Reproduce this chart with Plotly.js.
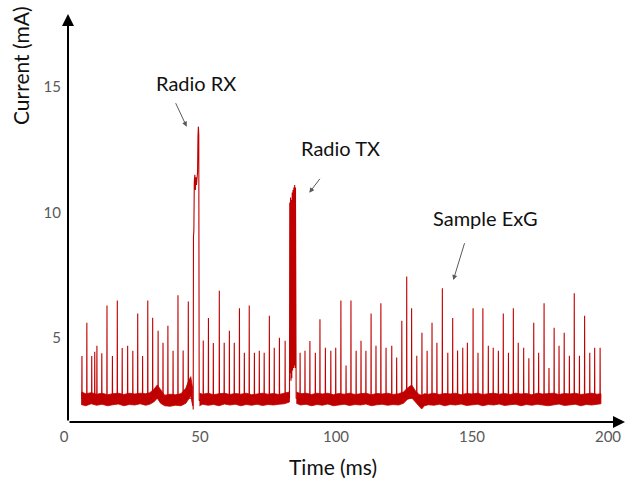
<!DOCTYPE html>
<html><head><meta charset="utf-8">
<script src="https://cdn.plot.ly/plotly-3.0.1.min.js"></script>
<style>html,body{margin:0;padding:0;background:#fff}#chart{width:626px;height:479px}</style>
</head><body><div id="chart"></div>
<script>
// ---- data ----
const spikeTime = [6.6, 8.4, 10.2, 11.3, 12.1, 13.9, 15.8, 17.8, 19.6, 21.4, 23.4, 25.3, 27.1, 28.9, 30.8, 32.6, 34.6, 36.4, 38.2, 40.1, 41.9, 43.8, 45.7,
  51.2, 53.1, 54.9, 57.1, 58.9, 60.8, 62.6, 64.5, 66.3, 68.1, 70.0, 71.8, 73.6, 75.5, 77.3, 79.2, 81.3,
  86.8, 88.6, 90.4, 92.4, 94.1, 96.1, 98.1, 99.9, 101.8, 103.7, 105.5, 107.4, 109.2, 111.0, 112.9, 114.7, 116.5, 118.4, 120.5, 122.3,
  124.2, 126.0, 127.8, 129.7, 131.6, 133.5, 135.3, 137.1, 139.1, 141.1, 142.9, 144.7, 146.6, 148.3, 150.4, 152.2, 154.0, 156.0, 157.8, 159.7,
  161.5, 163.4, 165.2, 167.0, 169.0, 170.9, 172.7, 174.5, 176.5, 178.3, 180.2, 182.0, 183.9, 185.8, 187.6, 189.5, 191.4, 193.3, 195.1, 197.1];
const spikePeak = [4.28, 5.61, 4.28, 4.45, 4.69, 4.39, 6.29, 4.28, 6.49, 4.6, 4.69, 4.49, 5.98, 4.28, 6.49, 5.81, 5.29, 4.81, 5.49, 4.49, 6.7, 4.5, 6.45,
  4.9, 5.8, 4.8, 6.88, 4.81, 5.29, 4.81, 6.18, 4.41, 6.29, 4.41, 4.49, 4.41, 5.89, 4.61, 5.01, 4.89,
  4.41, 4.49, 4.88, 4.41, 5.75, 4.61, 4.49, 4.61, 6.49, 3.9, 6.49, 4.49, 4.89, 4.49, 5.98, 4.69, 6.38, 4.61, 4.69, 4.22,
  5.69, 7.45, 6.18, 4.29, 5.21, 4.49, 5.61, 4.81, 6.98, 4.41, 5.8, 4.5, 4.61, 4.81, 6.18, 4.41, 6.18, 4.69, 4.61, 4.49,
  5.98, 4.41, 6.18, 4.81, 4.61, 4.19, 5.61, 4.41, 6.38, 3.8, 5.41, 4.69, 5.21, 4.29, 6.78, 4.29, 5.89, 4.41, 4.61, 4.61];
const baseline = 2.6;

const rxTime    = [47.4, 47.5, 47.6, 47.75, 47.9, 48.1, 48.3, 48.5, 48.7, 48.9, 49.1, 49.25, 49.4, 49.55, 49.7];
const rxCurrent = [2.6, 2.15, 9.0, 9.3, 11.2, 11.5, 10.9, 11.4, 11.1, 11.5, 11.6, 13.0, 13.42, 13.1, 2.5];

const txTime    = [82.9, 83.0, 83.15, 83.3, 83.45, 83.6, 83.75, 83.9, 84.05, 84.2, 84.35, 84.5, 84.65, 84.8, 84.95, 85.1, 85.25, 85.35];
const txCurrent = [2.6, 10.4, 3.6, 10.6, 3.3, 10.5, 3.4, 10.8, 3.7, 10.9, 3.8, 11.0, 3.9, 11.1, 3.8, 11.0, 3.9, 2.6];

// baseline noise band (upper / lower envelope); null separates segments
const bandTime = [6.3, 8, 10, 12, 14, 16, 18, 20, 22, 24, 26, 28, 30, 31.5, 33, 34.3, 35.5, 37, 39, 41, 43, 44.8, 45.8, 46.6, 47.3, null,
  49.8, 51, 53, 55, 57, 59, 61, 63, 65, 67, 69, 71, 73, 75, 77, 79, 81, 82.9, null,
  85.4, 87, 89, 91, 93, 95, 97, 99, 101, 103, 105, 107, 109, 111, 113, 115, 117, 119, 121, 123, 124.8, 126.2, 127.8, 129.2, 130.5, 131.5, 132.5, 134, 136, 138,
  140, 142, 144, 146, 148, 150, 152, 154, 156, 158, 160, 162, 164, 166, 168, 170, 172, 174, 176, 178, 180, 182, 184, 186, 188, 190, 192, 194, 196, 197.4];
const bandHigh = [2.85, 2.78, 2.82, 2.76, 2.8, 2.74, 2.78, 2.8, 2.75, 2.8, 2.77, 2.8, 2.78, 2.82, 2.95, 3.13, 2.95, 2.72, 2.76, 2.74, 2.78, 3.0, 3.3, 3.46, 3.0, null,
  2.8, 2.76, 2.8, 2.74, 2.78, 2.8, 2.75, 2.79, 2.76, 2.8, 2.74, 2.78, 2.8, 2.76, 2.79, 2.75, 2.8, 2.85, null,
  2.85, 2.78, 2.8, 2.75, 2.8, 2.77, 2.8, 2.74, 2.79, 2.76, 2.8, 2.75, 2.78, 2.8, 2.74, 2.79, 2.77, 2.8, 2.75, 2.78, 2.85, 3.0, 3.13, 2.9, 2.75, 2.72, 2.78, 2.76, 2.8, 2.75,
  2.79, 2.77, 2.8, 2.74, 2.79, 2.77, 2.8, 2.75, 2.78, 2.8, 2.76, 2.79, 2.75, 2.8, 2.77, 2.79, 2.74, 2.8, 2.77, 2.78, 2.8, 2.75, 2.79, 2.77, 2.8, 2.75, 2.78, 2.8, 2.76, 2.78];
const bandLow = [2.35, 2.3, 2.38, 2.32, 2.36, 2.3, 2.34, 2.37, 2.3, 2.35, 2.33, 2.38, 2.32, 2.36, 2.45, 2.6, 2.4, 2.3, 2.28, 2.32, 2.3, 2.4, 2.55, 2.7, 2.3, null,
  2.3, 2.36, 2.32, 2.35, 2.3, 2.37, 2.33, 2.36, 2.3, 2.35, 2.32, 2.36, 2.31, 2.35, 2.33, 2.36, 2.38, 2.45, null,
  2.4, 2.33, 2.36, 2.3, 2.35, 2.32, 2.37, 2.3, 2.34, 2.36, 2.31, 2.35, 2.33, 2.37, 2.3, 2.34, 2.36, 2.32, 2.35, 2.33, 2.4, 2.55, 2.62, 2.45, 2.3, 2.17, 2.3, 2.34, 2.32, 2.36,
  2.3, 2.35, 2.33, 2.37, 2.31, 2.34, 2.36, 2.3, 2.35, 2.33, 2.37, 2.31, 2.34, 2.36, 2.3, 2.35, 2.32, 2.36, 2.33, 2.3, 2.35, 2.37, 2.31, 2.34, 2.36, 2.3, 2.35, 2.33, 2.36, 2.38];

const xTickVals = [0, 50, 100, 150, 200];
const yTickVals = [5, 10, 15];
const xTitle = 'Time (ms)';
const yTitle = 'Current (mA)';
const labels = ['Radio RX', 'Radio TX', 'Sample ExG'];

// ---- build traces ----
const pts = [];
spikeTime.forEach((t, i) => { pts.push([t - 0.06, baseline], [t, spikePeak[i]], [t + 0.06, baseline]); });
rxTime.forEach((t, i) => pts.push([t, rxCurrent[i]]));
txTime.forEach((t, i) => pts.push([t, txCurrent[i]]));
pts.push([6.3, baseline], [197.4, baseline]);
pts.sort((a, b) => a[0] - b[0]);

const bx = [], by = [];
let seg = [];
function flush() {
  if (!seg.length) return;
  seg.forEach(i => { bx.push(bandTime[i]); by.push(bandHigh[i]); });
  seg.slice().reverse().forEach(i => { bx.push(bandTime[i]); by.push(bandLow[i]); });
  bx.push(null); by.push(null);
  seg = [];
}
bandTime.forEach((t, i) => { if (t === null) flush(); else seg.push(i); });
flush();

const RED = '#C00000';
const traces = [
  { x: bx, y: by, type: 'scatter', mode: 'lines', fill: 'toself', fillcolor: RED,
    line: { color: RED, width: 0.8 }, hoverinfo: 'skip', showlegend: false },
  { x: pts.map(p => p[0]), y: pts.map(p => p[1]), type: 'scatter', mode: 'lines',
    line: { color: RED, width: 1.1 }, showlegend: false }
];

// layout helpers (pixel -> paper)
const L = 64, R = 626, T = 15, B = 422;
const px = v => (v - L) / (R - L);
const py = v => (B - v) / (B - T);
const FONT = 'Lato, "Open Sans", sans-serif';
const grey = '#595959';

const annotations = [
  // axis arrows
  { xref: 'paper', yref: 'paper', x: px(68), y: py(14), ax: 0, ay: 408, text: '', showarrow: true,
    arrowhead: 2, arrowsize: 1.2, arrowwidth: 2, arrowcolor: '#000' },
  { xref: 'paper', yref: 'paper', x: px(625), y: py(422), ax: -557, ay: 0, text: '', showarrow: true,
    arrowhead: 2, arrowsize: 1.2, arrowwidth: 2, arrowcolor: '#000' },
  // titles
  { xref: 'paper', yref: 'paper', x: px(20), y: py(66), text: yTitle, textangle: -90, showarrow: false,
    xanchor: 'center', yanchor: 'middle', font: { family: FONT, size: 21, color: '#111' } },
  { xref: 'paper', yref: 'paper', x: px(333), y: py(466), text: xTitle, showarrow: false,
    xanchor: 'center', yanchor: 'middle', font: { family: FONT, size: 21, color: '#111' } },
  // labels
  { xref: 'paper', yref: 'paper', x: px(195.5), y: py(83), text: labels[0], showarrow: false,
    xanchor: 'center', yanchor: 'middle', font: { family: FONT, size: 20, color: '#111' } },
  { xref: 'paper', yref: 'paper', x: px(340), y: py(148), text: labels[1], showarrow: false,
    xanchor: 'center', yanchor: 'middle', font: { family: FONT, size: 20, color: '#111' } },
  { xref: 'paper', yref: 'paper', x: px(485), y: py(218), text: labels[2], showarrow: false,
    xanchor: 'center', yanchor: 'middle', font: { family: FONT, size: 20, color: '#111' } },
  // label arrows
  { xref: 'paper', yref: 'paper', x: px(186.7), y: py(126.7), ax: -11.7, ay: -25, text: '', showarrow: true,
    arrowhead: 2, arrowsize: 1, arrowwidth: 1, arrowcolor: grey },
  { xref: 'paper', yref: 'paper', x: px(309.3), y: py(192.7), ax: 11.7, ay: -15.4, text: '', showarrow: true,
    arrowhead: 2, arrowsize: 1, arrowwidth: 1, arrowcolor: grey },
  { xref: 'paper', yref: 'paper', x: px(453.3), y: py(280), ax: 11.7, ay: -38.3, text: '', showarrow: true,
    arrowhead: 2, arrowsize: 1, arrowwidth: 1, arrowcolor: grey }
];

const layout = {
  width: 626, height: 479,
  margin: { l: L, r: 626 - R, t: T, b: 479 - B, pad: 0 },
  paper_bgcolor: '#fff', plot_bgcolor: '#fff',
  showlegend: false,
  xaxis: { range: [0, (R - L) / 2.72], tickvals: xTickVals, ticktext: xTickVals.map(String),
    showgrid: false, zeroline: false, showline: false, ticks: '', ticklabelstandoff: 4,
    tickfont: { family: FONT, size: 15, color: grey } },
  yaxis: { range: [1.653, 17.868], tickvals: yTickVals, ticktext: yTickVals.map(String),
    showgrid: false, zeroline: false, showline: false, ticks: '', ticklabelstandoff: 2,
    tickfont: { family: FONT, size: 15, color: grey } },
  annotations: annotations
};

Plotly.newPlot('chart', traces, layout, { displayModeBar: false, staticPlot: true });
</script></body></html>
